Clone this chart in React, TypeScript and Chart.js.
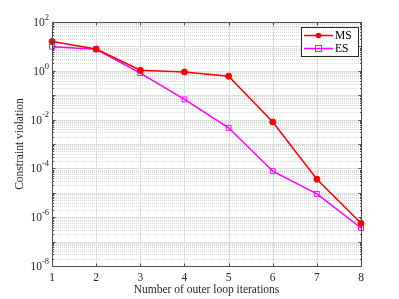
import React, { useEffect, useRef } from "react";
import { Chart, registerables } from "chart.js";

Chart.register(...registerables);

const iterations = [1, 2, 3, 4, 5, 6, 7, 8];
const msValues = [16, 7.8, 1.05, 0.9, 0.6, 8e-3, 3.6e-5, 5.6e-7];
const esValues = [9.7, 7.6, 0.8, 0.067, 0.0046, 7.7e-5, 9e-6, 3.6e-7];
const yExponents = [-8, -6, -4, -2, 0, 2];
const seriesNames = ["MS", "ES"];
const seriesColors = ["#ff0000", "#ff00ff"];
const xTitle = "Number of outer loop iterations";
const yTitle = "Constraint violation";

const FONT = "'Liberation Serif', 'Times New Roman', serif";

const matlabPlugin = {
  id: "matlabDecor",
  beforeDatasetsDraw(chart: any) {
    const { ctx, chartArea } = chart;
    const xs = chart.scales.x;
    const ys = chart.scales.y;
    const { left, right, top, bottom } = chartArea;
    ctx.save();
    ctx.strokeStyle = "#d9d9d9";
    ctx.lineWidth = 1;
    ctx.setLineDash([1, 1]);
    for (let e = -8; e < 2; e++) {
      for (let m = 2; m <= 9; m++) {
        const y = Math.round(ys.getPixelForValue(m * Math.pow(10, e))) + 0.5;
        ctx.beginPath();
        ctx.moveTo(left, y);
        ctx.lineTo(right, y);
        ctx.stroke();
      }
    }
    ctx.setLineDash([]);
    ctx.strokeStyle = "#dedede";
    for (let e = -7; e < 2; e++) {
      const y = Math.round(ys.getPixelForValue(Math.pow(10, e))) + 0.5;
      ctx.beginPath();
      ctx.moveTo(left, y);
      ctx.lineTo(right, y);
      ctx.stroke();
    }
    for (const v of iterations) {
      const x = Math.round(xs.getPixelForValue(v)) + 0.5;
      ctx.beginPath();
      ctx.moveTo(x, top);
      ctx.lineTo(x, bottom);
      ctx.stroke();
    }
    ctx.restore();
  },
  afterDatasetsDraw(chart: any) {
    const { ctx, chartArea } = chart;
    const xs = chart.scales.x;
    const ys = chart.scales.y;
    const { left, right, top, bottom } = chartArea;
    ctx.save();
    ctx.strokeStyle = "#4d4d4d";
    ctx.lineWidth = 1;
    const L = Math.round(left) + 0.5;
    const R = Math.round(right) + 0.5;
    const T = Math.round(top) + 0.5;
    const B = Math.round(bottom) + 0.5;
    ctx.strokeRect(L, T, R - L, B - T);
    ctx.beginPath();
    for (const v of iterations) {
      const x = Math.round(xs.getPixelForValue(v)) + 0.5;
      ctx.moveTo(x, B);
      ctx.lineTo(x, B - 3);
      ctx.moveTo(x, T);
      ctx.lineTo(x, T + 3);
    }
    for (let e = -8; e <= 2; e++) {
      for (let m = 1; m <= 9; m++) {
        if (e === 2 && m > 1) break;
        const y = Math.round(ys.getPixelForValue(m * Math.pow(10, e))) + 0.5;
        const len = m === 1 ? 3 : 1.5;
        ctx.moveTo(L, y);
        ctx.lineTo(L + len, y);
        ctx.moveTo(R, y);
        ctx.lineTo(R - len, y);
      }
    }
    ctx.stroke();
    ctx.fillStyle = "#262626";
    ctx.textBaseline = "middle";
    for (const e of yExponents) {
      const y = ys.getPixelForValue(Math.pow(10, e));
      const expText = String(e);
      ctx.font = `8.5px ${FONT}`;
      const ew = ctx.measureText(expText).width;
      ctx.textAlign = "left";
      const baseRight = left - 3 - ew;
      ctx.fillText(expText, baseRight, y - 4.5);
      ctx.font = `11.5px ${FONT}`;
      ctx.textAlign = "right";
      ctx.fillText("10", baseRight, y + 1);
    }
    ctx.restore();
  },
  afterDraw(chart: any) {
    const { ctx } = chart;
    ctx.save();
    const bx = 301.5, by = 27.5, bw = 57, bh = 29;
    ctx.fillStyle = "#ffffff";
    ctx.fillRect(bx, by, bw, bh);
    ctx.strokeStyle = "#262626";
    ctx.lineWidth = 1;
    ctx.strokeRect(bx, by, bw, bh);
    const rows = [35.5, 48.5];
    seriesNames.forEach((name, i) => {
      const y = rows[i];
      ctx.strokeStyle = seriesColors[i];
      ctx.lineWidth = 1.5;
      ctx.beginPath();
      ctx.moveTo(304, y);
      ctx.lineTo(333, y);
      ctx.stroke();
      if (i === 0) {
        ctx.fillStyle = seriesColors[i];
        ctx.beginPath();
        ctx.arc(318.5, y, 2.8, 0, Math.PI * 2);
        ctx.fill();
      } else {
        ctx.lineWidth = 1;
        ctx.strokeRect(315.5, y - 3, 6, 6);
      }
      ctx.fillStyle = "#000000";
      ctx.font = `11.5px ${FONT}`;
      ctx.textAlign = "left";
      ctx.textBaseline = "middle";
      ctx.fillText(name, 335, y + 0.5);
    });
    ctx.restore();
  },
};

export default function App() {
  const canvasRef = useRef<HTMLCanvasElement | null>(null);

  useEffect(() => {
    document.body.style.margin = "0";
    const canvas = canvasRef.current;
    if (!canvas) return;
    const chart = new Chart(canvas, {
      type: "line",
      data: {
        datasets: [
          {
            label: seriesNames[0],
            data: iterations.map((x, i) => ({ x, y: msValues[i] })),
            borderColor: seriesColors[0],
            backgroundColor: seriesColors[0],
            borderWidth: 1.5,
            pointStyle: "circle",
            pointRadius: 3,
            pointBorderWidth: 1,
            pointBackgroundColor: seriesColors[0],
            pointBorderColor: seriesColors[0],
            clip: false as any,
          },
          {
            label: seriesNames[1],
            data: iterations.map((x, i) => ({ x, y: esValues[i] })),
            borderColor: seriesColors[1],
            backgroundColor: "rgba(0,0,0,0)",
            borderWidth: 1.5,
            pointStyle: "rect",
            pointRadius: 3.5,
            pointBorderWidth: 1,
            pointBackgroundColor: "rgba(0,0,0,0)",
            pointBorderColor: seriesColors[1],
            clip: false as any,
          },
        ],
      },
      options: {
        animation: false,
        responsive: false,
        maintainAspectRatio: false,
        layout: { padding: { top: 22, right: 38, left: 0, bottom: 0 } },
        plugins: {
          legend: { display: false },
          tooltip: { enabled: false },
        },
        scales: {
          x: {
            type: "linear",
            min: 1,
            max: 8,
            grid: { display: false, drawTicks: false },
            border: { display: false },
            ticks: {
              stepSize: 1,
              padding: 5,
              color: "#262626",
              font: { family: FONT, size: 11.5 },
            },
            title: {
              display: true,
              text: xTitle,
              color: "#262626",
              font: { family: FONT, size: 11.5 },
              padding: { top: 0, bottom: 2 },
            },
            afterFit: (s: any) => {
              s.height = 33;
            },
          },
          y: {
            type: "logarithmic",
            min: 1e-8,
            max: 1e2,
            grid: { display: false, drawTicks: false },
            border: { display: false },
            ticks: { display: false },
            title: {
              display: true,
              text: yTitle,
              color: "#262626",
              font: { family: FONT, size: 11.5 },
              padding: { top: 13, bottom: 0 },
            },
            afterFit: (s: any) => {
              s.width = 52;
            },
          },
        },
      },
      plugins: [matlabPlugin],
    });
    return () => chart.destroy();
  }, []);

  return (
    <div style={{ position: "absolute", left: 0, top: 0, width: 399, height: 299, background: "#fff" }}>
      <canvas ref={canvasRef} width={399} height={299} style={{ width: 399, height: 299 }} />
    </div>
  );
}
